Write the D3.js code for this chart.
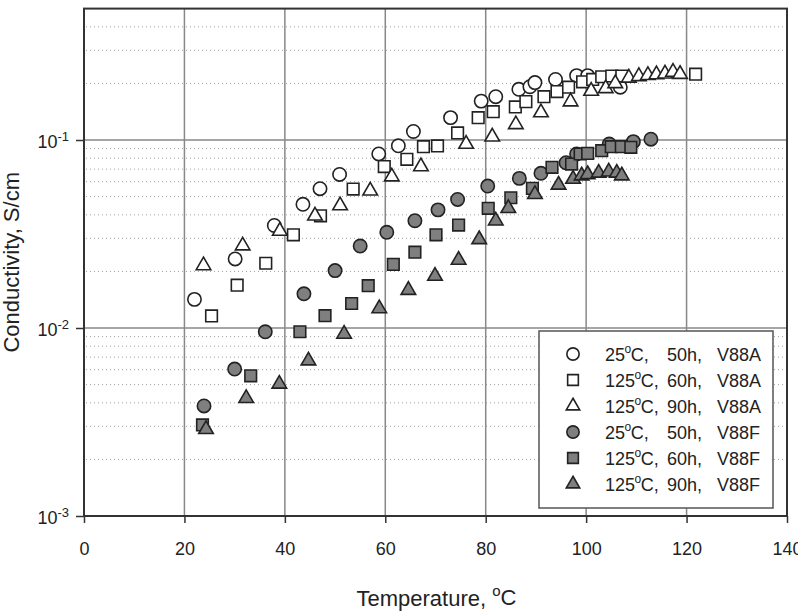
<!DOCTYPE html>
<html>
<head>
	<meta charset="utf-8">
	<title>Conductivity vs temperature</title>
</head>

<style>
	body { margin:0; background:#fff; }
	svg { font-family: Arial, "Liberation Sans", Helvetica, sans-serif; }
</style>

<body>
<script src="https://cdn.jsdelivr.net/npm/d3@7"></script>
<svg width="798" height="614"></svg>
<script>

	// data (temperature in C, conductivity in S/cm)
	var t_25_50_A  = [22.0,30.1,37.9,43.6,47.0,50.9,58.7,62.6,65.6,73.0,79.1,82.0,86.6,88.8,89.8,93.9,98.1,100.3,106.8];
	var s_25_50_A  = [0.0142,0.0233,0.0351,0.0455,0.0551,0.0656,0.0843,0.0932,0.111,0.1315,0.161,0.170,0.186,0.192,0.202,0.210,0.220,0.220,0.191];

	var t_125_60_A = [25.4,30.5,36.2,41.7,47.1,53.6,59.8,64.3,67.6,70.4,74.4,78.5,81.5,85.9,88.0,91.6,94.2,96.5,99.3,101.3,103.1,105.1,107.1,121.8];
	var s_125_60_A = [0.0116,0.0169,0.0221,0.0313,0.0395,0.0548,0.0722,0.0789,0.0921,0.093,0.109,0.1315,0.1415,0.150,0.160,0.170,0.181,0.191,0.204,0.210,0.217,0.219,0.219,0.224];

	var t_125_90_A = [23.8,31.6,39.0,46.0,51.0,57.0,61.3,67.1,76.1,81.3,86.0,91.0,96.9,101.0,103.9,105.8,108.5,110.5,112.3,114.0,115.7,117.3,118.7];
	var s_125_90_A = [0.0215,0.0274,0.0328,0.0395,0.0448,0.0537,0.0638,0.0722,0.0952,0.104,0.121,0.140,0.160,0.182,0.188,0.200,0.214,0.218,0.221,0.223,0.225,0.230,0.224];

	var t_25_50_F  = [23.9,30.0,36.1,43.8,50.0,55.0,60.3,65.9,70.5,74.4,80.4,86.7,91.0,96.0,98.1,104.6,109.4,112.9];
	var s_25_50_F  = [0.00385,0.00605,0.00955,0.0152,0.0202,0.0273,0.0323,0.0372,0.0425,0.0483,0.0569,0.0625,0.0665,0.0757,0.0843,0.0952,0.098,0.101];

	var t_125_60_F = [23.6,33.2,43.0,48.0,53.3,56.6,61.6,65.9,70.1,74.6,80.5,85.0,89.3,93.2,97.1,98.8,100.3,103.1,105.0,107.0,108.9];
	var s_125_60_F = [0.00305,0.00557,0.00955,0.01163,0.0135,0.0168,0.0218,0.0253,0.0313,0.0353,0.0433,0.0493,0.0553,0.0716,0.0745,0.0843,0.0849,0.0877,0.0921,0.0921,0.0914];

	var t_125_90_F = [24.3,32.3,38.9,44.7,51.8,58.8,64.6,69.9,74.6,78.7,82.0,84.5,89.8,94.5,97.4,99.1,100.3,102.5,104.5,106.1,107.1];
	var s_125_90_F = [0.00289,0.00423,0.00504,0.0067,0.00929,0.0127,0.0159,0.0189,0.023,0.0296,0.0372,0.0433,0.0514,0.0577,0.062,0.0646,0.0656,0.0668,0.0678,0.0668,0.0646];

	var legendTemp  = ["25", "125", "125", "25", "125", "125"];
	var legendTime  = ["50h,", "60h,", "90h,", "50h,", "60h,", "90h,"];
	var legendFilm  = ["V88A", "V88A", "V88A", "V88F", "V88F", "V88F"];

	var xTicks = [0,20,40,60,80,100,120,140];
	var yMajor = [1e-3,1e-2,1e-1];
	var yExp   = ["-3","-2","-1"];

	var series = [
		{t:t_25_50_A,  s:s_25_50_A,  shape:d3.symbolCircle,   filled:false},
		{t:t_125_60_A, s:s_125_60_A, shape:d3.symbolSquare,   filled:false},
		{t:t_125_90_A, s:s_125_90_A, shape:d3.symbolTriangle, filled:false},
		{t:t_25_50_F,  s:s_25_50_F,  shape:d3.symbolCircle,   filled:true},
		{t:t_125_60_F, s:s_125_60_F, shape:d3.symbolSquare,   filled:true},
		{t:t_125_90_F, s:s_125_90_F, shape:d3.symbolTriangle, filled:true}
	];
	function symSize(shape){
		return shape === d3.symbolCircle ? 140 : shape === d3.symbolSquare ? 135 : 92;
	}

	var svg = d3.select("svg");
	var margin = {top:8.6,left:84,bottom:98,right:11};
	var width = +svg.attr("width")-margin.left-margin.right;
	var height = +svg.attr("height")-margin.top-margin.bottom;

	var x = d3.scaleLinear().domain([0,140]).range([0,width]);
	var y = d3.scaleLog().domain([1e-3,0.5]).range([height,0]);

	var g = svg.append("g")
			   .attr("transform","translate("+ margin.left +","+ margin.top +")");

	// dotted minor grid
	var minor = [];
	yMajor.forEach(function(d){
		for(var k=2;k<=9;k++){ if(d*k < 0.5) minor.push(d*k); }
	});
	g.append("g").selectAll("line")
				 .data(minor)
				 .enter().append("line")
				 .attr("x1",2).attr("x2",width-2)
				 .attr("y1",function(d){return y(d);})
				 .attr("y2",function(d){return y(d);})
				 .attr("stroke","#a0a0a0")
				 .attr("stroke-width",1)
				 .attr("stroke-dasharray","1,3");

	// solid major grid
	g.append("g").selectAll("line")
				 .data(xTicks.slice(1,-1))
				 .enter().append("line")
				 .attr("x1",function(d){return x(d);})
				 .attr("x2",function(d){return x(d);})
				 .attr("y1",0).attr("y2",height)
				 .attr("stroke","#888").attr("stroke-width",1.5);
	g.append("g").selectAll("line")
				 .data(yMajor.slice(1))
				 .enter().append("line")
				 .attr("x1",0).attr("x2",width)
				 .attr("y1",function(d){return y(d);})
				 .attr("y2",function(d){return y(d);})
				 .attr("stroke","#888").attr("stroke-width",1.5);

	// axes
	var xAxis = g.append("g")
				 .attr("transform","translate(0,"+ height +")")
				 .call(d3.axisBottom(x).tickValues(xTicks).tickSize(7).tickPadding(19));
	var yAxis = g.append("g")
				 .call(d3.axisLeft(y).tickValues(yMajor).tickSize(8).tickPadding(10).tickFormat(""));
	[xAxis,yAxis].forEach(function(a){
		a.select(".domain").remove();
		a.selectAll(".tick line").attr("stroke","#333").attr("stroke-width",1.5);
		a.selectAll("text").attr("font-size",18).attr("fill","#222").attr("font-family",null);
	});

	yAxis.selectAll(".tick").append("text")
		 .attr("x",-15).attr("dy","0.4em")
		 .attr("text-anchor","end")
		 .attr("font-size",18).attr("fill","#222")
		 .each(function(d,i){
		 	var t = d3.select(this);
		 	t.append("tspan").text("10");
		 	t.append("tspan").attr("font-size",13).attr("dy","-0.55em").text(yExp[i]);
		 });

	// frame
	g.append("rect")
	 .attr("width",width).attr("height",height)
	 .attr("fill","none").attr("stroke","#333").attr("stroke-width",2);

	// points
	series.forEach(function(sr){
		g.append("g").selectAll("path")
					 .data(sr.t.map(function(t,i){return [t,sr.s[i]];}))
					 .enter().append("path")
					 .attr("transform",function(d){return "translate("+ x(d[0]) +","+ y(d[1]) +")";})
					 .attr("d",d3.symbol().type(sr.shape).size(symSize(sr.shape)))
					 .attr("fill",sr.filled ? "#7f7f7f" : "#fff")
					 .attr("stroke","#222")
					 .attr("stroke-width",1.6);
	});

	// legend
	var lg = svg.append("g").attr("transform","translate(539,331)");
	lg.append("rect")
	  .attr("width",234).attr("height",177)
	  .attr("fill","#fff").attr("stroke","#555").attr("stroke-width",1.5);
	var row = lg.selectAll(".row")
				.data(series)
				.enter().append("g")
				.attr("class","row")
				.attr("transform",function(d,i){return "translate(0,"+ (23 + i*26) +")";});
	row.append("path")
	   .attr("transform","translate(34,0)")
	   .attr("d",function(d){return d3.symbol().type(d.shape).size(symSize(d.shape)*0.85)();})
	   .attr("fill",function(d){return d.filled ? "#7f7f7f" : "#fff";})
	   .attr("stroke","#222").attr("stroke-width",1.6);
	var lt = row.append("text")
				.attr("y",7)
				.attr("font-size",18).attr("fill","#222");
	lt.each(function(d,i){
		var t = d3.select(this);
		t.append("tspan").attr("x",66).text(legendTemp[i]);
		t.append("tspan").attr("font-size",12).attr("dx",-0.5).attr("dy","-0.7em").text("o");
		t.append("tspan").attr("dx",-0.5).attr("dy","0.47em").text("C,");
		t.append("tspan").attr("x",128).text(legendTime[i]);
		t.append("tspan").attr("x",178).text(legendFilm[i]);
	});

	// axis titles
	var xt = svg.append("text")
				.attr("x",margin.left + width/2 + 1).attr("y",606)
				.attr("text-anchor","middle")
				.attr("font-size",22).attr("fill","#222");
	xt.append("tspan").text("Temperature, ");
	xt.append("tspan").attr("font-size",15).attr("dy","-0.7em").text("o");
	xt.append("tspan").attr("dy","0.45em").text("C");

	svg.append("text")
	   .attr("transform","translate(19,"+ (margin.top + height/2) +") rotate(-90)")
	   .attr("text-anchor","middle")
	   .attr("font-size",22).attr("fill","#222")
	   .text("Conductivity, S/cm");

</script>
</body>
</html>
